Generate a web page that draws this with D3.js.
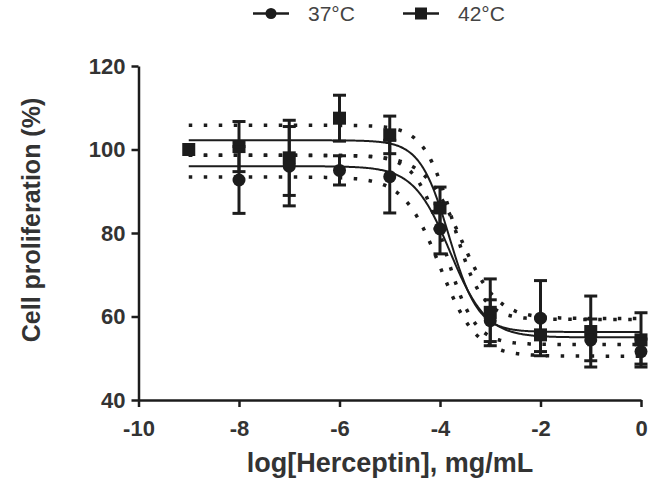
<!DOCTYPE html>
<html>
<head>
<meta charset="utf-8">
<script src="https://cdn.jsdelivr.net/npm/d3@7"></script>
<style>
  body { margin: 0; background: #fff; }
  text { font-family: "Liberation Sans", Arial, sans-serif; fill: #2b2b2b; }
</style>
</head>
<body>
<svg id="chart" width="656" height="481"></svg>
<script>
var dose42 = [-9, -8, -7, -6, -5, -4, -3, -2, -1, 0];
var mean42 = [100, 100.7, 98, 107.5, 103.5, 86, 61, 55.6, 56.4, 54.4];
var sd42 = [0, 6, 9, 5.5, 4.5, 5, 8, 4, 8.5, 6.5];

var dose37 = [-8, -7, -6, -5, -4, -3, -2, -1, 0];
var mean37 = [92.7, 96, 95, 93.5, 81, 59, 59.6, 54.4, 51.6];
var sd37 = [8, 9.5, 3.5, 8.7, 6, 5, 9, 5, 3];

// Sigmoidal fit: [top, bottom, logIC50, hill slope]
var fit42 = [102.2, 56.3, -3.82, 1.5];
var fit37 = [96, 55, -3.8, 1.2];
// Confidence band offsets: [top, bottom, logIC50]
var band42 = [3.6, 3, 0.08];
var band37 = [2.6, 4.5, 0.2];

var xTicks = [-10, -8, -6, -4, -2, 0];
var yTicks = [40, 60, 80, 100, 120];
var legendLabels = ["37°C", "42°C"];

var svg = d3.select("#chart");
var ink = "#1c1c1c";

var x = d3.scaleLinear().domain([-10, 0]).range([138.5, 641]);
var y = d3.scaleLinear().domain([40, 120]).range([400, 66]);

function sigmoid(p) {
    return function (v) { return p[1] + (p[0] - p[1]) / (1 + Math.pow(10, p[3] * (v - p[2]))); };
}

var curveX = d3.range(-9, 0.001, 0.02);
var line = d3.line()
    .x(function (d) { return x(d[0]); })
    .y(function (d) { return y(d[1]); });

function drawFit(p, b) {
    var f = sigmoid(p);
    var up = sigmoid([p[0] + b[0], p[1] + b[1], p[2] + b[2], p[3]]);
    var lo = sigmoid([p[0] - b[0], p[1] - b[1], p[2] - b[2], p[3]]);
    [up, lo].forEach(function (g) {
        svg.append("path")
            .attr("d", line(curveX.map(function (v) { return [v, g(v)]; })))
            .attr("fill", "none").attr("stroke", ink)
            .attr("stroke-width", 3.5).attr("stroke-dasharray", "3.5,11.5");
    });
    svg.append("path")
        .attr("d", line(curveX.map(function (v) { return [v, f(v)]; })))
        .attr("fill", "none").attr("stroke", ink).attr("stroke-width", 2);
}

drawFit(fit42, band42);
drawFit(fit37, band37);

function drawPoints(xs, ms, sds, shape) {
    var g = svg.append("g");
    xs.forEach(function (d, i) {
        var cx = x(d);
        if (sds[i] > 0) {
            var t = y(ms[i] + sds[i]), b = y(ms[i] - sds[i]);
            g.append("line").attr("x1", cx).attr("x2", cx).attr("y1", t).attr("y2", b)
                .attr("stroke", ink).attr("stroke-width", 3);
            [t, b].forEach(function (yy) {
                g.append("line").attr("x1", cx - 6.5).attr("x2", cx + 6.5).attr("y1", yy).attr("y2", yy)
                    .attr("stroke", ink).attr("stroke-width", 3);
            });
        }
        if (shape == "square") {
            g.append("rect").attr("x", cx - 6.5).attr("y", y(ms[i]) - 6.5)
                .attr("width", 13).attr("height", 13).attr("fill", ink);
        } else {
            g.append("circle").attr("cx", cx).attr("cy", y(ms[i])).attr("r", 6.5).attr("fill", ink);
        }
    });
}

drawPoints(dose42, mean42, sd42, "square");
drawPoints(dose37, mean37, sd37, "circle");

// Axes (plain hyphen for negatives, like the original)
var yAxis = svg.append("g")
    .attr("transform", "translate(" + x(-10) + ",0)")
    .call(d3.axisLeft(y).tickValues(yTicks).tickFormat(function (d) { return String(d); })
        .tickSize(7).tickSizeOuter(0).tickPadding(6));
var xAxis = svg.append("g")
    .attr("transform", "translate(0," + y(40) + ")")
    .call(d3.axisBottom(x).tickValues(xTicks).tickFormat(function (d) { return String(d); })
        .tickSize(7).tickSizeOuter(0).tickPadding(13));

[xAxis, yAxis].forEach(function (a) {
    a.select(".domain").attr("stroke", ink).attr("stroke-width", 2.5);
    a.selectAll(".tick line").attr("stroke", ink).attr("stroke-width", 2.5);
    a.selectAll(".tick text")
        .style("font-family", "'Liberation Sans', Arial, sans-serif")
        .style("font-size", "22px").style("font-weight", "bold").style("fill", "#333");
});

svg.append("text")
    .attr("transform", "translate(40,220) rotate(-90)")
    .attr("text-anchor", "middle")
    .style("font-size", "25px").style("font-weight", "bold").style("fill", "#333")
    .text("Cell proliferation (%)");

svg.append("text")
    .attr("x", 390).attr("y", 472)
    .attr("text-anchor", "middle")
    .style("font-size", "27px").style("font-weight", "bold").style("fill", "#333")
    .text("log[Herceptin], mg/mL");

// Legend
var legendX = [253, 403];
legendLabels.forEach(function (lab, i) {
    var lx = legendX[i];
    svg.append("line").attr("x1", lx).attr("x2", lx + 36).attr("y1", 13.5).attr("y2", 13.5)
        .attr("stroke", ink).attr("stroke-width", 2.5);
    if (i == 0) {
        svg.append("circle").attr("cx", lx + 18).attr("cy", 13.5).attr("r", 5.5).attr("fill", ink);
    } else {
        svg.append("rect").attr("x", lx + 12).attr("y", 7.5).attr("width", 12).attr("height", 12).attr("fill", ink);
    }
    svg.append("text").attr("x", lx + 55).attr("y", 21)
        .style("font-size", "21px").style("fill", "#444")
        .text(lab);
});
</script>
</body>
</html>
